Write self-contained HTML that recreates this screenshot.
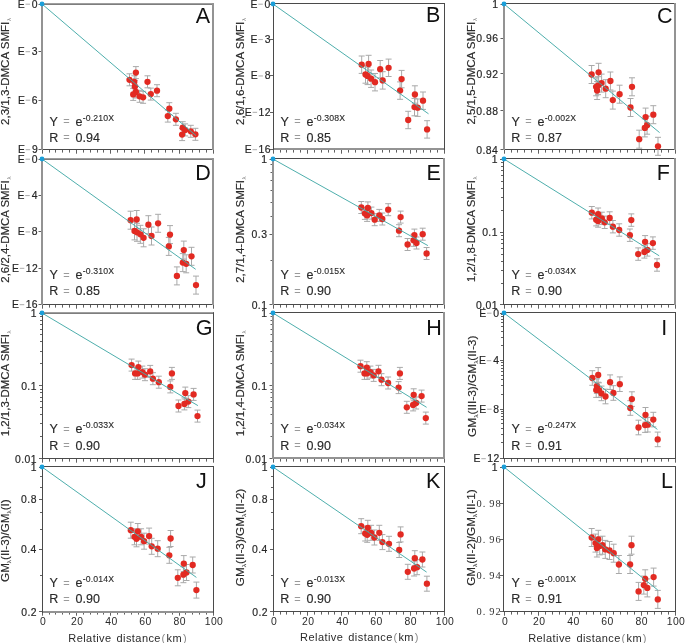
<!DOCTYPE html>
<html><head><meta charset="utf-8"><style>
html,body{margin:0;padding:0;background:#fff;overflow:hidden;}
svg{display:block;will-change:transform;}
text{font-family:"Liberation Sans",sans-serif;fill:#2a2a2a;}
.tk{font-size:10.4px;letter-spacing:0.45px;fill:#262626;stroke:#262626;stroke-width:0.18px;}
.tks{font-family:"Liberation Serif",serif;font-size:10.4px;fill:#333;}
.pl{font-size:21.5px;fill:#111;}
.eq{font-size:12.5px;stroke:#2a2a2a;stroke-width:0.15px;}
.eqs{font-size:11px;fill:#9a9a9a;}
.sup{font-size:8.7px;stroke:#2a2a2a;stroke-width:0.12px;}
.yl{font-size:11px;stroke:#2a2a2a;stroke-width:0.15px;}
.sub{font-size:6px;fill:#888;}
.xt{font-size:10.4px;letter-spacing:0.45px;}
.xl{font-size:11px;letter-spacing:0.43px;}
.xlp{font-size:11px;fill:#8a8a8a;}
</style></head><body>
<svg width="685" height="643" viewBox="0 0 685 643">
<path d="M42.5 149.5v4.2 M49.5 149.5v3.1 M55.5 149.5v3.1 M62.5 149.5v3.1 M69.5 149.5v3.1 M76.5 149.5v4.2 M83.5 149.5v3.1 M90.5 149.5v3.1 M97.5 149.5v3.1 M103.5 149.5v3.1 M110.5 149.5v4.2 M117.5 149.5v3.1 M124.5 149.5v3.1 M131.5 149.5v3.1 M138.5 149.5v3.1 M144.5 149.5v4.2 M151.5 149.5v3.1 M158.5 149.5v3.1 M165.5 149.5v3.1 M172.5 149.5v3.1 M179.5 149.5v4.2 M185.5 149.5v3.1 M192.5 149.5v3.1 M199.5 149.5v3.1 M206.5 149.5v3.1 M213.5 149.5v4.2" stroke="#606060" stroke-width="1" fill="none"/>
<path d="M38.5 4.5h3 M38.5 51.5h3 M38.5 100.5h3 M38.5 149.5h3" stroke="#606060" stroke-width="1" fill="none"/>
<line x1="41" y1="4.15" x2="214" y2="4.15" stroke="#7e7e7e" stroke-width="1.7"/>
<line x1="41" y1="149.5" x2="214" y2="149.5" stroke="#4a4a4a" stroke-width="1"/>
<line x1="42" y1="3.3" x2="42" y2="150" stroke="#939393" stroke-width="2"/>
<line x1="213" y1="3.3" x2="213" y2="150" stroke="#939393" stroke-width="2"/>
<text x="31.82" y="7.6" class="tk">0</text>
<line x1="25.53" y1="4.2" x2="30.03" y2="4.2" stroke="#a2a2a2" stroke-width="0.9"/>
<text x="17.74" y="7.6" class="tk">E</text>
<text x="31.87" y="55.1" class="tk">3</text>
<line x1="25.57" y1="51.7" x2="30.07" y2="51.7" stroke="#a2a2a2" stroke-width="0.9"/>
<text x="17.78" y="55.1" class="tk">E</text>
<text x="31.87" y="103.6" class="tk">6</text>
<line x1="25.7" y1="100.2" x2="30.2" y2="100.2" stroke="#a2a2a2" stroke-width="0.9"/>
<text x="17.91" y="103.6" class="tk">E</text>
<text x="31.91" y="153.1" class="tk">9</text>
<line x1="25.7" y1="149.7" x2="30.2" y2="149.7" stroke="#a2a2a2" stroke-width="0.9"/>
<text x="17.91" y="153.1" class="tk">E</text>
<path d="M135.9 66.6V78.6M132.9 66.6h6M132.9 78.6h6 M129.5 73.8V85.8M126.5 73.8h6M126.5 85.8h6 M134.3 75.8V87.8M131.3 75.8h6M131.3 87.8h6 M134.9 80.4V92.4M131.9 80.4h6M131.9 92.4h6 M147.5 75.8V87.8M144.5 75.8h6M144.5 87.8h6 M135.9 86V98M132.9 86h6M132.9 98h6 M133.2 88.4V100.4M130.2 88.4h6M130.2 100.4h6 M139.6 90.3V102.3M136.6 90.3h6M136.6 102.3h6 M143.1 91.3V103.3M140.1 91.3h6M140.1 103.3h6 M150.8 88.1V100.1M147.8 88.1h6M147.8 100.1h6 M157 84.7V96.7M154 84.7h6M154 96.7h6 M169.3 102.7V114.7M166.3 102.7h6M166.3 114.7h6 M167.8 110.1V122.1M164.8 110.1h6M164.8 122.1h6 M175.9 113.3V125.3M172.9 113.3h6M172.9 125.3h6 M182.7 121.7V133.7M179.7 121.7h6M179.7 133.7h6 M185.1 123.9V135.9M182.1 123.9h6M182.1 135.9h6 M182.1 128.6V140.6M179.1 128.6h6M179.1 140.6h6 M190.8 125.3V137.3M187.8 125.3h6M187.8 137.3h6 M195.4 128.3V140.3M192.4 128.3h6M192.4 140.3h6" stroke="#a9a9a9" stroke-width="1" fill="none"/>
<circle cx="135.9" cy="72.6" r="3.15" fill="#e22a22"/>
<circle cx="129.5" cy="79.8" r="3.15" fill="#e22a22"/>
<circle cx="134.3" cy="81.8" r="3.15" fill="#e22a22"/>
<circle cx="134.9" cy="86.4" r="3.15" fill="#e22a22"/>
<circle cx="147.5" cy="81.8" r="3.15" fill="#e22a22"/>
<circle cx="135.9" cy="92" r="3.15" fill="#e22a22"/>
<circle cx="133.2" cy="94.4" r="3.15" fill="#e22a22"/>
<circle cx="139.6" cy="96.3" r="3.15" fill="#e22a22"/>
<circle cx="143.1" cy="97.3" r="3.15" fill="#e22a22"/>
<circle cx="150.8" cy="94.1" r="3.15" fill="#e22a22"/>
<circle cx="157" cy="90.7" r="3.15" fill="#e22a22"/>
<circle cx="169.3" cy="108.7" r="3.15" fill="#e22a22"/>
<circle cx="167.8" cy="116.1" r="3.15" fill="#e22a22"/>
<circle cx="175.9" cy="119.3" r="3.15" fill="#e22a22"/>
<circle cx="182.7" cy="127.7" r="3.15" fill="#e22a22"/>
<circle cx="185.1" cy="129.9" r="3.15" fill="#e22a22"/>
<circle cx="182.1" cy="134.6" r="3.15" fill="#e22a22"/>
<circle cx="190.8" cy="131.3" r="3.15" fill="#e22a22"/>
<circle cx="195.4" cy="134.3" r="3.15" fill="#e22a22"/>
<line x1="42" y1="4" x2="196" y2="135.6" stroke="#45aaa8" stroke-width="0.95"/>
<circle cx="42" cy="4" r="2.4" fill="#1a9fd9"/>
<text x="195.76" y="22.5" class="pl">A</text>
<text x="49.48" y="125.7" class="eq">Y</text>
<text x="63.21" y="125.4" class="eqs">=</text>
<text x="75.52" y="125.7" class="eq">e</text>
<text x="82.66" y="120.5" class="sup" textLength="31.4" lengthAdjust="spacing">-0.210X</text>
<text x="49.32" y="141.5" class="eq">R</text>
<text x="63.21" y="141.2" class="eqs">=</text>
<text x="75.56" y="141.5" class="eq">0.94</text>
<text transform="translate(8.6 125) rotate(-90)" class="yl" textLength="103.3" lengthAdjust="spacingAndGlyphs">2,3/1,3-DMCA SMFI</text>
<text transform="translate(11.2 21.1) rotate(-90)" class="sub">λ</text>
<path d="M273.5 149.5v4.2 M280.5 149.5v3.1 M286.5 149.5v3.1 M293.5 149.5v3.1 M300.5 149.5v3.1 M307.5 149.5v4.2 M314.5 149.5v3.1 M321.5 149.5v3.1 M328.5 149.5v3.1 M334.5 149.5v3.1 M341.5 149.5v4.2 M348.5 149.5v3.1 M355.5 149.5v3.1 M362.5 149.5v3.1 M369.5 149.5v3.1 M375.5 149.5v4.2 M382.5 149.5v3.1 M389.5 149.5v3.1 M396.5 149.5v3.1 M403.5 149.5v3.1 M410.5 149.5v4.2 M416.5 149.5v3.1 M423.5 149.5v3.1 M430.5 149.5v3.1 M437.5 149.5v3.1 M444.5 149.5v4.2" stroke="#606060" stroke-width="1" fill="none"/>
<path d="M270 4.5h3 M270 39.5h3 M270 75.5h3 M270 112.5h3 M270 149.5h3" stroke="#606060" stroke-width="1" fill="none"/>
<line x1="273" y1="3.5" x2="445" y2="3.5" stroke="#4a4a4a" stroke-width="1"/>
<line x1="273" y1="149" x2="445" y2="149" stroke="#939393" stroke-width="2"/>
<line x1="273.5" y1="3" x2="273.5" y2="150" stroke="#4a4a4a" stroke-width="1"/>
<line x1="444.5" y1="3" x2="444.5" y2="150" stroke="#4a4a4a" stroke-width="1"/>
<text x="264.62" y="7.6" class="tk">0</text>
<line x1="258.33" y1="4.2" x2="262.83" y2="4.2" stroke="#a2a2a2" stroke-width="0.9"/>
<text x="250.54" y="7.6" class="tk">E</text>
<text x="264.67" y="42.98" class="tk">3</text>
<line x1="258.37" y1="39.58" x2="262.87" y2="39.58" stroke="#a2a2a2" stroke-width="0.9"/>
<text x="250.58" y="42.98" class="tk">E</text>
<text x="264.67" y="79.35" class="tk">8</text>
<line x1="258.42" y1="75.95" x2="262.92" y2="75.95" stroke="#a2a2a2" stroke-width="0.9"/>
<text x="250.63" y="79.35" class="tk">E</text>
<text x="258.51" y="115.72" class="tk">12</text>
<line x1="252.6" y1="112.33" x2="257.1" y2="112.33" stroke="#a2a2a2" stroke-width="0.9"/>
<text x="244.81" y="115.72" class="tk">E</text>
<text x="258.44" y="153.1" class="tk">16</text>
<line x1="252.53" y1="149.7" x2="257.03" y2="149.7" stroke="#a2a2a2" stroke-width="0.9"/>
<text x="244.74" y="153.1" class="tk">E</text>
<path d="M361.7 56V73.4M358.7 56h6M358.7 73.4h6 M368.6 55.3V72.7M365.6 55.3h6M365.6 72.7h6 M365.5 65.8V83.2M362.5 65.8h6M362.5 83.2h6 M367.6 67.2V84.6M364.6 67.2h6M364.6 84.6h6 M371.1 70V87.4M368.1 70h6M368.1 87.4h6 M375 73.5V90.9M372 73.5h6M372 90.9h6 M380.2 60.5V77.9M377.2 60.5h6M377.2 77.9h6 M382.7 71.7V89.1M379.7 71.7h6M379.7 89.1h6 M388.6 59.1V76.5M385.6 59.1h6M385.6 76.5h6 M401.6 70.4V87.8M398.6 70.4h6M398.6 87.8h6 M400.1 81.9V99.3M397.1 81.9h6M397.1 99.3h6 M414.9 85.8V103.2M411.9 85.8h6M411.9 103.2h6 M423 92V109.4M420 92h6M420 109.4h6 M414.5 98.4V115.8M411.5 98.4h6M411.5 115.8h6 M417.7 99V116.4M414.7 99h6M414.7 116.4h6 M408.2 111.3V128.7M405.2 111.3h6M405.2 128.7h6 M427.1 120.7V138.1M424.1 120.7h6M424.1 138.1h6" stroke="#a9a9a9" stroke-width="1" fill="none"/>
<circle cx="361.7" cy="64.7" r="3.15" fill="#e22a22"/>
<circle cx="368.6" cy="64" r="3.15" fill="#e22a22"/>
<circle cx="365.5" cy="74.5" r="3.15" fill="#e22a22"/>
<circle cx="367.6" cy="75.9" r="3.15" fill="#e22a22"/>
<circle cx="371.1" cy="78.7" r="3.15" fill="#e22a22"/>
<circle cx="375" cy="82.2" r="3.15" fill="#e22a22"/>
<circle cx="380.2" cy="69.2" r="3.15" fill="#e22a22"/>
<circle cx="382.7" cy="80.4" r="3.15" fill="#e22a22"/>
<circle cx="388.6" cy="67.8" r="3.15" fill="#e22a22"/>
<circle cx="401.6" cy="79.1" r="3.15" fill="#e22a22"/>
<circle cx="400.1" cy="90.6" r="3.15" fill="#e22a22"/>
<circle cx="414.9" cy="94.5" r="3.15" fill="#e22a22"/>
<circle cx="423" cy="100.7" r="3.15" fill="#e22a22"/>
<circle cx="414.5" cy="107.1" r="3.15" fill="#e22a22"/>
<circle cx="417.7" cy="107.7" r="3.15" fill="#e22a22"/>
<circle cx="408.2" cy="120" r="3.15" fill="#e22a22"/>
<circle cx="427.1" cy="129.4" r="3.15" fill="#e22a22"/>
<line x1="273" y1="4" x2="428.5" y2="113.8" stroke="#45aaa8" stroke-width="0.95"/>
<circle cx="273" cy="4" r="2.4" fill="#1a9fd9"/>
<text x="426.04" y="22.4" class="pl">B</text>
<text x="280.48" y="125.7" class="eq">Y</text>
<text x="294.21" y="125.4" class="eqs">=</text>
<text x="306.52" y="125.7" class="eq">e</text>
<text x="313.66" y="120.5" class="sup" textLength="31.4" lengthAdjust="spacing">-0.308X</text>
<text x="280.32" y="141.5" class="eq">R</text>
<text x="294.21" y="141.2" class="eqs">=</text>
<text x="306.56" y="141.5" class="eq">0.85</text>
<text transform="translate(243.5 125) rotate(-90)" class="yl" textLength="103.3" lengthAdjust="spacingAndGlyphs">2,6/1,6-DMCA SMFI</text>
<text transform="translate(246.1 21.1) rotate(-90)" class="sub">λ</text>
<path d="M504.5 149.5v4.2 M511.5 149.5v3.1 M517.5 149.5v3.1 M524.5 149.5v3.1 M531.5 149.5v3.1 M538.5 149.5v4.2 M545.5 149.5v3.1 M552.5 149.5v3.1 M559.5 149.5v3.1 M565.5 149.5v3.1 M572.5 149.5v4.2 M579.5 149.5v3.1 M586.5 149.5v3.1 M593.5 149.5v3.1 M600.5 149.5v3.1 M606.5 149.5v4.2 M613.5 149.5v3.1 M620.5 149.5v3.1 M627.5 149.5v3.1 M634.5 149.5v3.1 M641.5 149.5v4.2 M647.5 149.5v3.1 M654.5 149.5v3.1 M661.5 149.5v3.1 M668.5 149.5v3.1 M675.5 149.5v4.2" stroke="#606060" stroke-width="1" fill="none"/>
<path d="M500.5 4.5h3 M500.5 38.5h3 M500.5 73.5h3 M500.5 110.5h3 M500.5 149.5h3" stroke="#606060" stroke-width="1" fill="none"/>
<line x1="503" y1="3.5" x2="676" y2="3.5" stroke="#4a4a4a" stroke-width="1"/>
<line x1="503" y1="149.5" x2="676" y2="149.5" stroke="#4a4a4a" stroke-width="1"/>
<line x1="504" y1="3" x2="504" y2="150" stroke="#939393" stroke-width="2"/>
<line x1="675" y1="3" x2="675" y2="150" stroke="#939393" stroke-width="2"/>
<text x="492.22" y="8" class="tk">1</text>
<text x="476.37" y="42.07" class="tk">0.96</text>
<text x="476.43" y="77.58" class="tk">0.92</text>
<text x="476.36" y="114.68" class="tk">0.88</text>
<text x="476.21" y="153.5" class="tk">0.84</text>
<path d="M591.6 65.5V83.5M588.6 65.5h6M588.6 83.5h6 M598.6 63.3V81.3M595.6 63.3h6M595.6 81.3h6 M601.6 74.1V92.1M598.6 74.1h6M598.6 92.1h6 M596.1 77.8V95.8M593.1 77.8h6M593.1 95.8h6 M597.1 81.5V99.5M594.1 81.5h6M594.1 99.5h6 M598 76.7V94.7M595 76.7h6M595 94.7h6 M605.7 79.7V97.7M602.7 79.7h6M602.7 97.7h6 M610.4 72V90M607.4 72h6M607.4 90h6 M612.8 91.1V109.1M609.8 91.1h6M609.8 109.1h6 M619.6 85.2V103.2M616.6 85.2h6M616.6 103.2h6 M632 77.8V95.8M629 77.8h6M629 95.8h6 M630.5 98.5V116.5M627.5 98.5h6M627.5 116.5h6 M645.6 108.1V126.1M642.6 108.1h6M642.6 126.1h6 M653.3 105.7V123.7M650.3 105.7h6M650.3 123.7h6 M647.1 116.2V134.2M644.1 116.2h6M644.1 134.2h6 M644.8 118.9V136.9M641.8 118.9h6M641.8 136.9h6 M639.2 130.2V148.2M636.2 130.2h6M636.2 148.2h6 M658 137.3V155.3M655 137.3h6M655 155.3h6" stroke="#a9a9a9" stroke-width="1" fill="none"/>
<circle cx="591.6" cy="74.5" r="3.15" fill="#e22a22"/>
<circle cx="598.6" cy="72.3" r="3.15" fill="#e22a22"/>
<circle cx="601.6" cy="83.1" r="3.15" fill="#e22a22"/>
<circle cx="596.1" cy="86.8" r="3.15" fill="#e22a22"/>
<circle cx="597.1" cy="90.5" r="3.15" fill="#e22a22"/>
<circle cx="598" cy="85.7" r="3.15" fill="#e22a22"/>
<circle cx="605.7" cy="88.7" r="3.15" fill="#e22a22"/>
<circle cx="610.4" cy="81" r="3.15" fill="#e22a22"/>
<circle cx="612.8" cy="100.1" r="3.15" fill="#e22a22"/>
<circle cx="619.6" cy="94.2" r="3.15" fill="#e22a22"/>
<circle cx="632" cy="86.8" r="3.15" fill="#e22a22"/>
<circle cx="630.5" cy="107.5" r="3.15" fill="#e22a22"/>
<circle cx="645.6" cy="117.1" r="3.15" fill="#e22a22"/>
<circle cx="653.3" cy="114.7" r="3.15" fill="#e22a22"/>
<circle cx="647.1" cy="125.2" r="3.15" fill="#e22a22"/>
<circle cx="644.8" cy="127.9" r="3.15" fill="#e22a22"/>
<circle cx="639.2" cy="139.2" r="3.15" fill="#e22a22"/>
<circle cx="658" cy="146.3" r="3.15" fill="#e22a22"/>
<line x1="504" y1="4" x2="659.6" y2="132.6" stroke="#45aaa8" stroke-width="0.95"/>
<circle cx="504" cy="4" r="2.4" fill="#1a9fd9"/>
<text x="656.91" y="22.5" class="pl">C</text>
<text x="511.48" y="125.7" class="eq">Y</text>
<text x="525.21" y="125.4" class="eqs">=</text>
<text x="537.52" y="125.7" class="eq">e</text>
<text x="544.66" y="120.5" class="sup" textLength="31.4" lengthAdjust="spacing">-0.002X</text>
<text x="511.32" y="141.5" class="eq">R</text>
<text x="525.21" y="141.2" class="eqs">=</text>
<text x="537.56" y="141.5" class="eq">0.87</text>
<text transform="translate(474.6 124.6) rotate(-90)" class="yl" textLength="102.9" lengthAdjust="spacingAndGlyphs">2,5/1,5-DMCA SMFI</text>
<text transform="translate(477.2 21.1) rotate(-90)" class="sub">λ</text>
<path d="M42.5 304.5v4.2 M49.5 304.5v3.1 M55.5 304.5v3.1 M62.5 304.5v3.1 M69.5 304.5v3.1 M76.5 304.5v4.2 M83.5 304.5v3.1 M90.5 304.5v3.1 M97.5 304.5v3.1 M103.5 304.5v3.1 M110.5 304.5v4.2 M117.5 304.5v3.1 M124.5 304.5v3.1 M131.5 304.5v3.1 M138.5 304.5v3.1 M144.5 304.5v4.2 M151.5 304.5v3.1 M158.5 304.5v3.1 M165.5 304.5v3.1 M172.5 304.5v3.1 M179.5 304.5v4.2 M185.5 304.5v3.1 M192.5 304.5v3.1 M199.5 304.5v3.1 M206.5 304.5v3.1 M213.5 304.5v4.2" stroke="#606060" stroke-width="1" fill="none"/>
<path d="M38.5 159.5h3 M38.5 195.5h3 M38.5 231.5h3 M38.5 268.5h3 M38.5 304.5h3" stroke="#606060" stroke-width="1" fill="none"/>
<line x1="41" y1="159.15" x2="214" y2="159.15" stroke="#7e7e7e" stroke-width="1.7"/>
<line x1="41" y1="304.5" x2="214" y2="304.5" stroke="#4a4a4a" stroke-width="1"/>
<line x1="42" y1="158.3" x2="42" y2="305" stroke="#939393" stroke-width="2"/>
<line x1="213" y1="158.3" x2="213" y2="305" stroke="#939393" stroke-width="2"/>
<text x="31.82" y="162.6" class="tk">0</text>
<line x1="25.53" y1="159.2" x2="30.03" y2="159.2" stroke="#a2a2a2" stroke-width="0.9"/>
<text x="17.74" y="162.6" class="tk">E</text>
<text x="31.72" y="198.97" class="tk">4</text>
<line x1="25.26" y1="195.57" x2="29.76" y2="195.57" stroke="#a2a2a2" stroke-width="0.9"/>
<text x="17.47" y="198.97" class="tk">E</text>
<text x="31.87" y="235.35" class="tk">8</text>
<line x1="25.62" y1="231.95" x2="30.12" y2="231.95" stroke="#a2a2a2" stroke-width="0.9"/>
<text x="17.83" y="235.35" class="tk">E</text>
<text x="25.71" y="271.73" class="tk">12</text>
<line x1="19.8" y1="268.32" x2="24.3" y2="268.32" stroke="#a2a2a2" stroke-width="0.9"/>
<text x="12.01" y="271.73" class="tk">E</text>
<text x="25.64" y="308.1" class="tk">16</text>
<line x1="19.73" y1="304.7" x2="24.23" y2="304.7" stroke="#a2a2a2" stroke-width="0.9"/>
<text x="11.94" y="308.1" class="tk">E</text>
<path d="M130.6 211.2V229.2M127.6 211.2h6M127.6 229.2h6 M136.7 210.5V228.5M133.7 210.5h6M133.7 228.5h6 M134.5 221.9V239.9M131.5 221.9h6M131.5 239.9h6 M137 223.3V241.3M134 223.3h6M134 241.3h6 M140.4 225.3V243.3M137.4 225.3h6M137.4 243.3h6 M143.6 228.8V246.8M140.6 228.8h6M140.6 246.8h6 M148.4 215.7V233.7M145.4 215.7h6M145.4 233.7h6 M151.5 227V245M148.5 227h6M148.5 245h6 M158.1 214.3V232.3M155.1 214.3h6M155.1 232.3h6 M170 225.6V243.6M167 225.6h6M167 243.6h6 M168.8 237.4V255.4M165.8 237.4h6M165.8 255.4h6 M183.8 241.1V259.1M180.8 241.1h6M180.8 259.1h6 M191.5 247.3V265.3M188.5 247.3h6M188.5 265.3h6 M182.8 253.6V271.6M179.8 253.6h6M179.8 271.6h6 M186.2 254.8V272.8M183.2 254.8h6M183.2 272.8h6 M176.9 266.9V284.9M173.9 266.9h6M173.9 284.9h6 M196 276.1V294.1M193 276.1h6M193 294.1h6" stroke="#a9a9a9" stroke-width="1" fill="none"/>
<circle cx="130.6" cy="220.2" r="3.15" fill="#e22a22"/>
<circle cx="136.7" cy="219.5" r="3.15" fill="#e22a22"/>
<circle cx="134.5" cy="230.9" r="3.15" fill="#e22a22"/>
<circle cx="137" cy="232.3" r="3.15" fill="#e22a22"/>
<circle cx="140.4" cy="234.3" r="3.15" fill="#e22a22"/>
<circle cx="143.6" cy="237.8" r="3.15" fill="#e22a22"/>
<circle cx="148.4" cy="224.7" r="3.15" fill="#e22a22"/>
<circle cx="151.5" cy="236" r="3.15" fill="#e22a22"/>
<circle cx="158.1" cy="223.3" r="3.15" fill="#e22a22"/>
<circle cx="170" cy="234.6" r="3.15" fill="#e22a22"/>
<circle cx="168.8" cy="246.4" r="3.15" fill="#e22a22"/>
<circle cx="183.8" cy="250.1" r="3.15" fill="#e22a22"/>
<circle cx="191.5" cy="256.3" r="3.15" fill="#e22a22"/>
<circle cx="182.8" cy="262.6" r="3.15" fill="#e22a22"/>
<circle cx="186.2" cy="263.8" r="3.15" fill="#e22a22"/>
<circle cx="176.9" cy="275.9" r="3.15" fill="#e22a22"/>
<circle cx="196" cy="285.1" r="3.15" fill="#e22a22"/>
<line x1="42" y1="159" x2="195.7" y2="269.3" stroke="#45aaa8" stroke-width="0.95"/>
<circle cx="42" cy="159" r="2.4" fill="#1a9fd9"/>
<text x="195.34" y="180.2" class="pl">D</text>
<text x="49.48" y="279" class="eq">Y</text>
<text x="63.21" y="278.7" class="eqs">=</text>
<text x="75.52" y="279" class="eq">e</text>
<text x="82.66" y="273.8" class="sup" textLength="31.4" lengthAdjust="spacing">-0.310X</text>
<text x="49.32" y="294.9" class="eq">R</text>
<text x="63.21" y="294.6" class="eqs">=</text>
<text x="75.56" y="294.9" class="eq">0.85</text>
<text transform="translate(8.6 282.7) rotate(-90)" class="yl" textLength="102.5" lengthAdjust="spacingAndGlyphs">2,6/2,4-DMCA SMFI</text>
<text transform="translate(11.2 179.6) rotate(-90)" class="sub">λ</text>
<path d="M273.5 304.5v4.2 M280.5 304.5v3.1 M286.5 304.5v3.1 M293.5 304.5v3.1 M300.5 304.5v3.1 M307.5 304.5v4.2 M314.5 304.5v3.1 M321.5 304.5v3.1 M328.5 304.5v3.1 M334.5 304.5v3.1 M341.5 304.5v4.2 M348.5 304.5v3.1 M355.5 304.5v3.1 M362.5 304.5v3.1 M369.5 304.5v3.1 M375.5 304.5v4.2 M382.5 304.5v3.1 M389.5 304.5v3.1 M396.5 304.5v3.1 M403.5 304.5v3.1 M410.5 304.5v4.2 M416.5 304.5v3.1 M423.5 304.5v3.1 M430.5 304.5v3.1 M437.5 304.5v3.1 M444.5 304.5v4.2" stroke="#606060" stroke-width="1" fill="none"/>
<path d="M269.5 159.5h3 M269.5 234.5h3 M269.5 304.5h3 M270.5 260.5h2 M270.5 234.5h2 M270.5 216.5h2 M270.5 202.5h2 M270.5 190.5h2 M270.5 180.5h2 M270.5 172.5h2 M270.5 164.5h2" stroke="#606060" stroke-width="1" fill="none"/>
<line x1="272" y1="158.5" x2="445" y2="158.5" stroke="#4a4a4a" stroke-width="1"/>
<line x1="272" y1="304.5" x2="445" y2="304.5" stroke="#4a4a4a" stroke-width="1"/>
<line x1="273" y1="158" x2="273" y2="305" stroke="#939393" stroke-width="2"/>
<line x1="444" y1="158" x2="444" y2="305" stroke="#939393" stroke-width="2"/>
<text x="261.22" y="163" class="tk">1</text>
<text x="251.6" y="238.38" class="tk">0.3</text>
<text x="251.65" y="308.5" class="tk">0.1</text>
<path d="M361.3 201.5V213.5M358.3 201.5h6M358.3 213.5h6 M367.9 201.9V213.9M364.9 201.9h6M364.9 213.9h6 M364.9 207.4V219.4M361.9 207.4h6M361.9 219.4h6 M367.1 209.4V221.4M364.1 209.4h6M364.1 221.4h6 M371.4 207.1V219.1M368.4 207.1h6M368.4 219.1h6 M374.7 213.7V225.7M371.7 213.7h6M371.7 225.7h6 M379.3 209.4V221.4M376.3 209.4h6M376.3 221.4h6 M382.3 213V225M379.3 213h6M379.3 225h6 M388.2 203.7V215.7M385.2 203.7h6M385.2 215.7h6 M400.6 211.1V223.1M397.6 211.1h6M397.6 223.1h6 M399 224.7V236.7M396 224.7h6M396 236.7h6 M414.4 229.1V241.1M411.4 229.1h6M411.4 241.1h6 M422.7 228.2V240.2M419.7 228.2h6M419.7 240.2h6 M413.5 234.3V246.3M410.5 234.3h6M410.5 246.3h6 M416.5 237V249M413.5 237h6M413.5 249h6 M407.6 238.5V250.5M404.6 238.5h6M404.6 250.5h6 M426.6 247.5V259.5M423.6 247.5h6M423.6 259.5h6" stroke="#a9a9a9" stroke-width="1" fill="none"/>
<circle cx="361.3" cy="207.5" r="3.15" fill="#e22a22"/>
<circle cx="367.9" cy="207.9" r="3.15" fill="#e22a22"/>
<circle cx="364.9" cy="213.4" r="3.15" fill="#e22a22"/>
<circle cx="367.1" cy="215.4" r="3.15" fill="#e22a22"/>
<circle cx="371.4" cy="213.1" r="3.15" fill="#e22a22"/>
<circle cx="374.7" cy="219.7" r="3.15" fill="#e22a22"/>
<circle cx="379.3" cy="215.4" r="3.15" fill="#e22a22"/>
<circle cx="382.3" cy="219" r="3.15" fill="#e22a22"/>
<circle cx="388.2" cy="209.7" r="3.15" fill="#e22a22"/>
<circle cx="400.6" cy="217.1" r="3.15" fill="#e22a22"/>
<circle cx="399" cy="230.7" r="3.15" fill="#e22a22"/>
<circle cx="414.4" cy="235.1" r="3.15" fill="#e22a22"/>
<circle cx="422.7" cy="234.2" r="3.15" fill="#e22a22"/>
<circle cx="413.5" cy="240.3" r="3.15" fill="#e22a22"/>
<circle cx="416.5" cy="243" r="3.15" fill="#e22a22"/>
<circle cx="407.6" cy="244.5" r="3.15" fill="#e22a22"/>
<circle cx="426.6" cy="253.5" r="3.15" fill="#e22a22"/>
<line x1="273" y1="159" x2="427.9" y2="245.6" stroke="#45aaa8" stroke-width="0.95"/>
<circle cx="273" cy="159" r="2.4" fill="#1a9fd9"/>
<text x="426.54" y="180.1" class="pl">E</text>
<text x="280.48" y="279" class="eq">Y</text>
<text x="294.21" y="278.7" class="eqs">=</text>
<text x="306.52" y="279" class="eq">e</text>
<text x="313.66" y="273.8" class="sup" textLength="31.4" lengthAdjust="spacing">-0.015X</text>
<text x="280.32" y="294.9" class="eq">R</text>
<text x="294.21" y="294.6" class="eqs">=</text>
<text x="306.56" y="294.9" class="eq">0.90</text>
<text transform="translate(243.5 282.8) rotate(-90)" class="yl" textLength="102.8" lengthAdjust="spacingAndGlyphs">2,7/1,4-DMCA SMFI</text>
<text transform="translate(246.1 179.4) rotate(-90)" class="sub">λ</text>
<path d="M504.5 304.5v4.2 M511.5 304.5v3.1 M517.5 304.5v3.1 M524.5 304.5v3.1 M531.5 304.5v3.1 M538.5 304.5v4.2 M545.5 304.5v3.1 M552.5 304.5v3.1 M559.5 304.5v3.1 M565.5 304.5v3.1 M572.5 304.5v4.2 M579.5 304.5v3.1 M586.5 304.5v3.1 M593.5 304.5v3.1 M600.5 304.5v3.1 M606.5 304.5v4.2 M613.5 304.5v3.1 M620.5 304.5v3.1 M627.5 304.5v3.1 M634.5 304.5v3.1 M641.5 304.5v4.2 M647.5 304.5v3.1 M654.5 304.5v3.1 M661.5 304.5v3.1 M668.5 304.5v3.1 M675.5 304.5v4.2" stroke="#606060" stroke-width="1" fill="none"/>
<path d="M500 159.5h3 M500 232.5h3 M500 304.5h3 M501 210.5h2 M501 197.5h2 M501 188.5h2 M501 181.5h2 M501 175.5h2 M501 170.5h2 M501 166.5h2 M501 162.5h2 M501 283.5h2 M501 270.5h2 M501 261.5h2 M501 254.5h2 M501 248.5h2 M501 243.5h2 M501 239.5h2 M501 235.5h2" stroke="#606060" stroke-width="1" fill="none"/>
<line x1="503" y1="158.5" x2="676" y2="158.5" stroke="#4a4a4a" stroke-width="1"/>
<line x1="503" y1="304.5" x2="676" y2="304.5" stroke="#4a4a4a" stroke-width="1"/>
<line x1="503.5" y1="158" x2="503.5" y2="305" stroke="#4a4a4a" stroke-width="1"/>
<line x1="675" y1="158" x2="675" y2="305" stroke="#939393" stroke-width="2"/>
<text x="491.72" y="163" class="tk">1</text>
<text x="482.15" y="236.15" class="tk">0.1</text>
<text x="475.92" y="308.5" class="tk">0.01</text>
<path d="M591.8 206.5V218.9M588.8 206.5h6M588.8 218.9h6 M598.1 208V220.4M595.1 208h6M595.1 220.4h6 M596.2 213.5V225.9M593.2 213.5h6M593.2 225.9h6 M598.1 214.8V227.2M595.1 214.8h6M595.1 227.2h6 M601.8 212.2V224.6M598.8 212.2h6M598.8 224.6h6 M604.7 216.1V228.5M601.7 216.1h6M601.7 228.5h6 M609.7 211.8V224.2M606.7 211.8h6M606.7 224.2h6 M612.9 220.5V232.9M609.9 220.5h6M609.9 232.9h6 M619.2 223.8V236.2M616.2 223.8h6M616.2 236.2h6 M631.3 213.9V226.3M628.3 213.9h6M628.3 226.3h6 M629.9 229V241.4M626.9 229h6M626.9 241.4h6 M645.1 235.6V248M642.1 235.6h6M642.1 248h6 M652.9 236.9V249.3M649.9 236.9h6M649.9 249.3h6 M644.4 245.7V258.1M641.4 245.7h6M641.4 258.1h6 M647.4 243.7V256.1M644.4 243.7h6M644.4 256.1h6 M638.2 247.9V260.3M635.2 247.9h6M635.2 260.3h6 M657 258.8V271.2M654 258.8h6M654 271.2h6" stroke="#a9a9a9" stroke-width="1" fill="none"/>
<circle cx="591.8" cy="212.7" r="3.15" fill="#e22a22"/>
<circle cx="598.1" cy="214.2" r="3.15" fill="#e22a22"/>
<circle cx="596.2" cy="219.7" r="3.15" fill="#e22a22"/>
<circle cx="598.1" cy="221" r="3.15" fill="#e22a22"/>
<circle cx="601.8" cy="218.4" r="3.15" fill="#e22a22"/>
<circle cx="604.7" cy="222.3" r="3.15" fill="#e22a22"/>
<circle cx="609.7" cy="218" r="3.15" fill="#e22a22"/>
<circle cx="612.9" cy="226.7" r="3.15" fill="#e22a22"/>
<circle cx="619.2" cy="230" r="3.15" fill="#e22a22"/>
<circle cx="631.3" cy="220.1" r="3.15" fill="#e22a22"/>
<circle cx="629.9" cy="235.2" r="3.15" fill="#e22a22"/>
<circle cx="645.1" cy="241.8" r="3.15" fill="#e22a22"/>
<circle cx="652.9" cy="243.1" r="3.15" fill="#e22a22"/>
<circle cx="644.4" cy="251.9" r="3.15" fill="#e22a22"/>
<circle cx="647.4" cy="249.9" r="3.15" fill="#e22a22"/>
<circle cx="638.2" cy="254.1" r="3.15" fill="#e22a22"/>
<circle cx="657" cy="265" r="3.15" fill="#e22a22"/>
<line x1="504" y1="159" x2="659.2" y2="255.8" stroke="#45aaa8" stroke-width="0.95"/>
<circle cx="504" cy="159" r="2.4" fill="#1a9fd9"/>
<text x="656.84" y="180.2" class="pl">F</text>
<text x="511.48" y="279" class="eq">Y</text>
<text x="525.21" y="278.7" class="eqs">=</text>
<text x="537.52" y="279" class="eq">e</text>
<text x="544.66" y="273.8" class="sup" textLength="31.4" lengthAdjust="spacing">-0.034X</text>
<text x="511.32" y="294.9" class="eq">R</text>
<text x="525.21" y="294.6" class="eqs">=</text>
<text x="537.56" y="294.9" class="eq">0.90</text>
<text transform="translate(474.6 282) rotate(-90)" class="yl" textLength="102" lengthAdjust="spacingAndGlyphs">1,2/1,8-DMCA SMFI</text>
<text transform="translate(477.2 179.4) rotate(-90)" class="sub">λ</text>
<path d="M42.5 458.5v4.2 M49.5 458.5v3.1 M55.5 458.5v3.1 M62.5 458.5v3.1 M69.5 458.5v3.1 M76.5 458.5v4.2 M83.5 458.5v3.1 M90.5 458.5v3.1 M97.5 458.5v3.1 M103.5 458.5v3.1 M110.5 458.5v4.2 M117.5 458.5v3.1 M124.5 458.5v3.1 M131.5 458.5v3.1 M138.5 458.5v3.1 M144.5 458.5v4.2 M151.5 458.5v3.1 M158.5 458.5v3.1 M165.5 458.5v3.1 M172.5 458.5v3.1 M179.5 458.5v4.2 M185.5 458.5v3.1 M192.5 458.5v3.1 M199.5 458.5v3.1 M206.5 458.5v3.1 M213.5 458.5v4.2" stroke="#606060" stroke-width="1" fill="none"/>
<path d="M39 313.5h3 M39 385.5h3 M39 458.5h3 M40 363.5h2 M40 351.5h2 M40 341.5h2 M40 334.5h2 M40 329.5h2 M40 324.5h2 M40 320.5h2 M40 316.5h2 M40 436.5h2 M40 423.5h2 M40 414.5h2 M40 407.5h2 M40 401.5h2 M40 397.5h2 M40 392.5h2 M40 389.5h2" stroke="#606060" stroke-width="1" fill="none"/>
<line x1="42" y1="313.15" x2="214" y2="313.15" stroke="#7e7e7e" stroke-width="1.7"/>
<line x1="42" y1="458.5" x2="214" y2="458.5" stroke="#4a4a4a" stroke-width="1"/>
<line x1="42.5" y1="312.3" x2="42.5" y2="459" stroke="#4a4a4a" stroke-width="1"/>
<line x1="213.5" y1="312.3" x2="213.5" y2="459" stroke="#4a4a4a" stroke-width="1"/>
<text x="30.72" y="317" class="tk">1</text>
<text x="21.15" y="389.75" class="tk">0.1</text>
<text x="14.92" y="462.5" class="tk">0.01</text>
<path d="M131.6 359.1V371.1M128.6 359.1h6M128.6 371.1h6 M138.4 361.1V373.1M135.4 361.1h6M135.4 373.1h6 M135.1 367.4V379.4M132.1 367.4h6M132.1 379.4h6 M137.7 367.4V379.4M134.7 367.4h6M134.7 379.4h6 M142.3 366.1V378.1M139.3 366.1h6M139.3 378.1h6 M145 368.7V380.7M142 368.7h6M142 380.7h6 M150.2 365.4V377.4M147.2 365.4h6M147.2 377.4h6 M152.9 372.7V384.7M149.9 372.7h6M149.9 384.7h6 M158.8 376.2V388.2M155.8 376.2h6M155.8 388.2h6 M171.9 367.4V379.4M168.9 367.4h6M168.9 379.4h6 M170.3 380.9V392.9M167.3 380.9h6M167.3 392.9h6 M185.3 387.1V399.1M182.3 387.1h6M182.3 399.1h6 M193.6 388.4V400.4M190.6 388.4h6M190.6 400.4h6 M178.5 400V412M175.5 400h6M175.5 412h6 M184.4 397.9V409.9M181.4 397.9h6M181.4 409.9h6 M188.3 395.6V407.6M185.3 395.6h6M185.3 407.6h6 M197.5 410.1V422.1M194.5 410.1h6M194.5 422.1h6" stroke="#a9a9a9" stroke-width="1" fill="none"/>
<circle cx="131.6" cy="365.1" r="3.15" fill="#e22a22"/>
<circle cx="138.4" cy="367.1" r="3.15" fill="#e22a22"/>
<circle cx="135.1" cy="373.4" r="3.15" fill="#e22a22"/>
<circle cx="137.7" cy="373.4" r="3.15" fill="#e22a22"/>
<circle cx="142.3" cy="372.1" r="3.15" fill="#e22a22"/>
<circle cx="145" cy="374.7" r="3.15" fill="#e22a22"/>
<circle cx="150.2" cy="371.4" r="3.15" fill="#e22a22"/>
<circle cx="152.9" cy="378.7" r="3.15" fill="#e22a22"/>
<circle cx="158.8" cy="382.2" r="3.15" fill="#e22a22"/>
<circle cx="171.9" cy="373.4" r="3.15" fill="#e22a22"/>
<circle cx="170.3" cy="386.9" r="3.15" fill="#e22a22"/>
<circle cx="185.3" cy="393.1" r="3.15" fill="#e22a22"/>
<circle cx="193.6" cy="394.4" r="3.15" fill="#e22a22"/>
<circle cx="178.5" cy="406" r="3.15" fill="#e22a22"/>
<circle cx="184.4" cy="403.9" r="3.15" fill="#e22a22"/>
<circle cx="188.3" cy="401.6" r="3.15" fill="#e22a22"/>
<circle cx="197.5" cy="416.1" r="3.15" fill="#e22a22"/>
<line x1="42" y1="313" x2="197.9" y2="405.6" stroke="#45aaa8" stroke-width="0.95"/>
<circle cx="42" cy="313" r="2.4" fill="#1a9fd9"/>
<text x="195.72" y="334.5" class="pl">G</text>
<text x="49.48" y="433.4" class="eq">Y</text>
<text x="63.21" y="433.1" class="eqs">=</text>
<text x="75.52" y="433.4" class="eq">e</text>
<text x="82.66" y="428.2" class="sup" textLength="31.4" lengthAdjust="spacing">-0.033X</text>
<text x="49.32" y="449.5" class="eq">R</text>
<text x="63.21" y="449.2" class="eqs">=</text>
<text x="75.56" y="449.5" class="eq">0.90</text>
<text transform="translate(8.6 436.2) rotate(-90)" class="yl" textLength="102.2" lengthAdjust="spacingAndGlyphs">1,2/1,3-DMCA SMFI</text>
<text transform="translate(11.2 333.4) rotate(-90)" class="sub">λ</text>
<path d="M273.5 458.5v4.2 M280.5 458.5v3.1 M286.5 458.5v3.1 M293.5 458.5v3.1 M300.5 458.5v3.1 M307.5 458.5v4.2 M314.5 458.5v3.1 M321.5 458.5v3.1 M328.5 458.5v3.1 M334.5 458.5v3.1 M341.5 458.5v4.2 M348.5 458.5v3.1 M355.5 458.5v3.1 M362.5 458.5v3.1 M369.5 458.5v3.1 M375.5 458.5v4.2 M382.5 458.5v3.1 M389.5 458.5v3.1 M396.5 458.5v3.1 M403.5 458.5v3.1 M410.5 458.5v4.2 M416.5 458.5v3.1 M423.5 458.5v3.1 M430.5 458.5v3.1 M437.5 458.5v3.1 M444.5 458.5v4.2" stroke="#606060" stroke-width="1" fill="none"/>
<path d="M269.5 313.5h3 M269.5 385.5h3 M269.5 458.5h3 M270.5 363.5h2 M270.5 351.5h2 M270.5 341.5h2 M270.5 334.5h2 M270.5 329.5h2 M270.5 324.5h2 M270.5 320.5h2 M270.5 316.5h2 M270.5 436.5h2 M270.5 423.5h2 M270.5 414.5h2 M270.5 407.5h2 M270.5 401.5h2 M270.5 397.5h2 M270.5 392.5h2 M270.5 389.5h2" stroke="#606060" stroke-width="1" fill="none"/>
<line x1="272" y1="312.5" x2="445" y2="312.5" stroke="#4a4a4a" stroke-width="1"/>
<line x1="272" y1="458" x2="445" y2="458" stroke="#939393" stroke-width="2"/>
<line x1="273" y1="312" x2="273" y2="459" stroke="#939393" stroke-width="2"/>
<line x1="444" y1="312" x2="444" y2="459" stroke="#939393" stroke-width="2"/>
<text x="261.22" y="317" class="tk">1</text>
<text x="251.65" y="389.75" class="tk">0.1</text>
<text x="245.42" y="462.5" class="tk">0.01</text>
<path d="M360.5 360.2V372.2M357.5 360.2h6M357.5 372.2h6 M366.8 361.7V373.7M363.8 361.7h6M363.8 373.7h6 M364.5 367.4V379.4M361.5 367.4h6M361.5 379.4h6 M367.1 367.4V379.4M364.1 367.4h6M364.1 379.4h6 M370.4 366.1V378.1M367.4 366.1h6M367.4 378.1h6 M373.7 369.4V381.4M370.7 369.4h6M370.7 381.4h6 M378.5 365.3V377.3M375.5 365.3h6M375.5 377.3h6 M381.5 373.7V385.7M378.5 373.7h6M378.5 385.7h6 M388.1 377V389M385.1 377h6M385.1 389h6 M399.9 367.4V379.4M396.9 367.4h6M396.9 379.4h6 M398.6 381.6V393.6M395.6 381.6h6M395.6 393.6h6 M413.7 388.8V400.8M410.7 388.8h6M410.7 400.8h6 M421.6 390.1V402.1M418.6 390.1h6M418.6 402.1h6 M406.8 401.3V413.3M403.8 401.3h6M403.8 413.3h6 M413.1 398.9V410.9M410.1 398.9h6M410.1 410.9h6 M416.1 397V409M413.1 397h6M413.1 409h6 M425.8 412.1V424.1M422.8 412.1h6M422.8 424.1h6" stroke="#a9a9a9" stroke-width="1" fill="none"/>
<circle cx="360.5" cy="366.2" r="3.15" fill="#e22a22"/>
<circle cx="366.8" cy="367.7" r="3.15" fill="#e22a22"/>
<circle cx="364.5" cy="373.4" r="3.15" fill="#e22a22"/>
<circle cx="367.1" cy="373.4" r="3.15" fill="#e22a22"/>
<circle cx="370.4" cy="372.1" r="3.15" fill="#e22a22"/>
<circle cx="373.7" cy="375.4" r="3.15" fill="#e22a22"/>
<circle cx="378.5" cy="371.3" r="3.15" fill="#e22a22"/>
<circle cx="381.5" cy="379.7" r="3.15" fill="#e22a22"/>
<circle cx="388.1" cy="383" r="3.15" fill="#e22a22"/>
<circle cx="399.9" cy="373.4" r="3.15" fill="#e22a22"/>
<circle cx="398.6" cy="387.6" r="3.15" fill="#e22a22"/>
<circle cx="413.7" cy="394.8" r="3.15" fill="#e22a22"/>
<circle cx="421.6" cy="396.1" r="3.15" fill="#e22a22"/>
<circle cx="406.8" cy="407.3" r="3.15" fill="#e22a22"/>
<circle cx="413.1" cy="404.9" r="3.15" fill="#e22a22"/>
<circle cx="416.1" cy="403" r="3.15" fill="#e22a22"/>
<circle cx="425.8" cy="418.1" r="3.15" fill="#e22a22"/>
<line x1="273" y1="313" x2="426.6" y2="407.3" stroke="#45aaa8" stroke-width="0.95"/>
<circle cx="273" cy="313" r="2.4" fill="#1a9fd9"/>
<text x="426.24" y="334.6" class="pl">H</text>
<text x="280.48" y="433.4" class="eq">Y</text>
<text x="294.21" y="433.1" class="eqs">=</text>
<text x="306.52" y="433.4" class="eq">e</text>
<text x="313.66" y="428.2" class="sup" textLength="31.4" lengthAdjust="spacing">-0.034X</text>
<text x="280.32" y="449.5" class="eq">R</text>
<text x="294.21" y="449.2" class="eqs">=</text>
<text x="306.56" y="449.5" class="eq">0.90</text>
<text transform="translate(243.5 436.2) rotate(-90)" class="yl" textLength="102.2" lengthAdjust="spacingAndGlyphs">1,2/1,4-DMCA SMFI</text>
<text transform="translate(246.1 333.4) rotate(-90)" class="sub">λ</text>
<path d="M504.5 458.5v4.2 M511.5 458.5v3.1 M517.5 458.5v3.1 M524.5 458.5v3.1 M531.5 458.5v3.1 M538.5 458.5v4.2 M545.5 458.5v3.1 M552.5 458.5v3.1 M559.5 458.5v3.1 M565.5 458.5v3.1 M572.5 458.5v4.2 M579.5 458.5v3.1 M586.5 458.5v3.1 M593.5 458.5v3.1 M600.5 458.5v3.1 M606.5 458.5v4.2 M613.5 458.5v3.1 M620.5 458.5v3.1 M627.5 458.5v3.1 M634.5 458.5v3.1 M641.5 458.5v4.2 M647.5 458.5v3.1 M654.5 458.5v3.1 M661.5 458.5v3.1 M668.5 458.5v3.1 M675.5 458.5v4.2" stroke="#606060" stroke-width="1" fill="none"/>
<path d="M500 313.5h3 M500 360.5h3 M500 409.5h3 M500 458.5h3 M501 345.5h2 M501 337.5h2 M501 331.5h2 M501 326.5h2 M501 322.5h2 M501 319.5h2 M501 316.5h2 M501 314.5h2 M501 394.5h2 M501 385.5h2 M501 379.5h2 M501 375.5h2 M501 371.5h2 M501 368.5h2 M501 365.5h2 M501 362.5h2 M501 442.5h2 M501 434.5h2 M501 428.5h2 M501 423.5h2 M501 419.5h2 M501 416.5h2 M501 413.5h2 M501 411.5h2" stroke="#606060" stroke-width="1" fill="none"/>
<line x1="503" y1="312.5" x2="676" y2="312.5" stroke="#4a4a4a" stroke-width="1"/>
<line x1="503" y1="458.5" x2="676" y2="458.5" stroke="#4a4a4a" stroke-width="1"/>
<line x1="503.5" y1="312" x2="503.5" y2="459" stroke="#4a4a4a" stroke-width="1"/>
<line x1="675.5" y1="312" x2="675.5" y2="459" stroke="#4a4a4a" stroke-width="1"/>
<text x="493.32" y="316.6" class="tk">0</text>
<line x1="487.03" y1="313.2" x2="491.53" y2="313.2" stroke="#a2a2a2" stroke-width="0.9"/>
<text x="479.24" y="316.6" class="tk">E</text>
<text x="493.22" y="364.1" class="tk">4</text>
<line x1="486.76" y1="360.7" x2="491.26" y2="360.7" stroke="#a2a2a2" stroke-width="0.9"/>
<text x="478.97" y="364.1" class="tk">E</text>
<text x="493.37" y="412.6" class="tk">8</text>
<line x1="487.12" y1="409.2" x2="491.62" y2="409.2" stroke="#a2a2a2" stroke-width="0.9"/>
<text x="479.33" y="412.6" class="tk">E</text>
<text x="487.21" y="462.1" class="tk">12</text>
<line x1="481.3" y1="458.7" x2="485.8" y2="458.7" stroke="#a2a2a2" stroke-width="0.9"/>
<text x="473.51" y="462.1" class="tk">E</text>
<path d="M592.3 370.7V385.3M589.3 370.7h6M589.3 385.3h6 M598.2 367.6V382.2M595.2 367.6h6M595.2 382.2h6 M596.9 378.8V393.4M593.9 378.8h6M593.9 393.4h6 M596.2 382.8V397.4M593.2 382.8h6M593.2 397.4h6 M598.9 382.8V397.4M595.9 382.8h6M595.9 397.4h6 M601.5 386.1V400.7M598.5 386.1h6M598.5 400.7h6 M605.5 389.2V403.8M602.5 389.2h6M602.5 403.8h6 M610.1 374.9V389.5M607.1 374.9h6M607.1 389.5h6 M613.4 385.7V400.3M610.4 385.7h6M610.4 400.3h6 M619.8 376.9V391.5M616.8 376.9h6M616.8 391.5h6 M631.9 391.8V406.4M628.9 391.8h6M628.9 406.4h6 M630.3 400.7V415.3M627.3 400.7h6M627.3 415.3h6 M645.5 407.5V422.1M642.5 407.5h6M642.5 422.1h6 M653.3 412.3V426.9M650.3 412.3h6M650.3 426.9h6 M645.1 417.8V432.4M642.1 417.8h6M642.1 432.4h6 M647.8 417.4V432M644.8 417.4h6M644.8 432h6 M638.5 420.2V434.8M635.5 420.2h6M635.5 434.8h6 M657.7 432.1V446.7M654.7 432.1h6M654.7 446.7h6" stroke="#a9a9a9" stroke-width="1" fill="none"/>
<circle cx="592.3" cy="378" r="3.15" fill="#e22a22"/>
<circle cx="598.2" cy="374.9" r="3.15" fill="#e22a22"/>
<circle cx="596.9" cy="386.1" r="3.15" fill="#e22a22"/>
<circle cx="596.2" cy="390.1" r="3.15" fill="#e22a22"/>
<circle cx="598.9" cy="390.1" r="3.15" fill="#e22a22"/>
<circle cx="601.5" cy="393.4" r="3.15" fill="#e22a22"/>
<circle cx="605.5" cy="396.5" r="3.15" fill="#e22a22"/>
<circle cx="610.1" cy="382.2" r="3.15" fill="#e22a22"/>
<circle cx="613.4" cy="393" r="3.15" fill="#e22a22"/>
<circle cx="619.8" cy="384.2" r="3.15" fill="#e22a22"/>
<circle cx="631.9" cy="399.1" r="3.15" fill="#e22a22"/>
<circle cx="630.3" cy="408" r="3.15" fill="#e22a22"/>
<circle cx="645.5" cy="414.8" r="3.15" fill="#e22a22"/>
<circle cx="653.3" cy="419.6" r="3.15" fill="#e22a22"/>
<circle cx="645.1" cy="425.1" r="3.15" fill="#e22a22"/>
<circle cx="647.8" cy="424.7" r="3.15" fill="#e22a22"/>
<circle cx="638.5" cy="427.5" r="3.15" fill="#e22a22"/>
<circle cx="657.7" cy="439.4" r="3.15" fill="#e22a22"/>
<line x1="504" y1="313" x2="657.4" y2="429.4" stroke="#45aaa8" stroke-width="0.95"/>
<circle cx="504" cy="313" r="2.4" fill="#1a9fd9"/>
<text x="661.22" y="334.5" class="pl">I</text>
<text x="511.48" y="433.4" class="eq">Y</text>
<text x="525.21" y="433.1" class="eqs">=</text>
<text x="537.52" y="433.4" class="eq">e</text>
<text x="544.66" y="428.2" class="sup" textLength="31.4" lengthAdjust="spacing">-0.247X</text>
<text x="511.32" y="449.5" class="eq">R</text>
<text x="525.21" y="449.2" class="eqs">=</text>
<text x="537.56" y="449.5" class="eq">0.91</text>
<text transform="translate(475.5 436.9) rotate(-90)" class="yl" textLength="101.3" lengthAdjust="spacingAndGlyphs">GM<tspan class="sub" dy="2.6">λ</tspan><tspan dy="-2.6">(</tspan>III-3)/GM<tspan class="sub" dy="2.6">λ</tspan><tspan dy="-2.6">(</tspan>II-3)</text>
<path d="M42.5 611.5v4.2 M49.5 611.5v3.1 M55.5 611.5v3.1 M62.5 611.5v3.1 M69.5 611.5v3.1 M76.5 611.5v4.2 M83.5 611.5v3.1 M90.5 611.5v3.1 M97.5 611.5v3.1 M103.5 611.5v3.1 M110.5 611.5v4.2 M117.5 611.5v3.1 M124.5 611.5v3.1 M131.5 611.5v3.1 M138.5 611.5v3.1 M144.5 611.5v4.2 M151.5 611.5v3.1 M158.5 611.5v3.1 M165.5 611.5v3.1 M172.5 611.5v3.1 M179.5 611.5v4.2 M185.5 611.5v3.1 M192.5 611.5v3.1 M199.5 611.5v3.1 M206.5 611.5v3.1 M213.5 611.5v4.2" stroke="#606060" stroke-width="1" fill="none"/>
<path d="M39 467.5h3 M39 499.5h3 M39 549.5h3 M39 611.5h3 M40 575.5h2 M40 549.5h2 M40 529.5h2 M40 512.5h2 M40 499.5h2 M40 487.5h2 M40 476.5h2" stroke="#606060" stroke-width="1" fill="none"/>
<line x1="42" y1="466.5" x2="214" y2="466.5" stroke="#4a4a4a" stroke-width="1"/>
<line x1="42" y1="612" x2="214" y2="612" stroke="#939393" stroke-width="2"/>
<line x1="42.5" y1="466" x2="42.5" y2="613" stroke="#4a4a4a" stroke-width="1"/>
<line x1="213.5" y1="466" x2="213.5" y2="613" stroke="#4a4a4a" stroke-width="1"/>
<text x="30.72" y="471" class="tk">1</text>
<text x="21.09" y="503.02" class="tk">0.8</text>
<text x="20.95" y="553.27" class="tk">0.4</text>
<text x="21.17" y="615.5" class="tk">0.2</text>
<path d="M130.8 522.2V538.2M127.8 522.2h6M127.8 538.2h6 M137.8 523.5V539.5M134.8 523.5h6M134.8 539.5h6 M134.5 528.8V544.8M131.5 528.8h6M131.5 544.8h6 M136.5 530.8V546.8M133.5 530.8h6M133.5 546.8h6 M141.1 528.8V544.8M138.1 528.8h6M138.1 544.8h6 M144.1 533.2V549.2M141.1 533.2h6M141.1 549.2h6 M149.1 528.1V544.1M146.1 528.1h6M146.1 544.1h6 M151.7 538.3V554.3M148.7 538.3h6M148.7 554.3h6 M157.7 540.7V556.7M154.7 540.7h6M154.7 556.7h6 M170.6 530.5V546.5M167.6 530.5h6M167.6 546.5h6 M169.3 547.3V563.3M166.3 547.3h6M166.3 563.3h6 M183.8 555.6V571.6M180.8 555.6h6M180.8 571.6h6 M192.7 557V573M189.7 557h6M189.7 573h6 M177.8 569.8V585.8M174.8 569.8h6M174.8 585.8h6 M183.4 566.7V582.7M180.4 566.7h6M180.4 582.7h6 M186.5 564.5V580.5M183.5 564.5h6M183.5 580.5h6 M196.4 582.1V598.1M193.4 582.1h6M193.4 598.1h6" stroke="#a9a9a9" stroke-width="1" fill="none"/>
<circle cx="130.8" cy="530.2" r="3.15" fill="#e22a22"/>
<circle cx="137.8" cy="531.5" r="3.15" fill="#e22a22"/>
<circle cx="134.5" cy="536.8" r="3.15" fill="#e22a22"/>
<circle cx="136.5" cy="538.8" r="3.15" fill="#e22a22"/>
<circle cx="141.1" cy="536.8" r="3.15" fill="#e22a22"/>
<circle cx="144.1" cy="541.2" r="3.15" fill="#e22a22"/>
<circle cx="149.1" cy="536.1" r="3.15" fill="#e22a22"/>
<circle cx="151.7" cy="546.3" r="3.15" fill="#e22a22"/>
<circle cx="157.7" cy="548.7" r="3.15" fill="#e22a22"/>
<circle cx="170.6" cy="538.5" r="3.15" fill="#e22a22"/>
<circle cx="169.3" cy="555.3" r="3.15" fill="#e22a22"/>
<circle cx="183.8" cy="563.6" r="3.15" fill="#e22a22"/>
<circle cx="192.7" cy="565" r="3.15" fill="#e22a22"/>
<circle cx="177.8" cy="577.8" r="3.15" fill="#e22a22"/>
<circle cx="183.4" cy="574.7" r="3.15" fill="#e22a22"/>
<circle cx="186.5" cy="572.5" r="3.15" fill="#e22a22"/>
<circle cx="196.4" cy="590.1" r="3.15" fill="#e22a22"/>
<line x1="42" y1="467" x2="196.4" y2="577.4" stroke="#45aaa8" stroke-width="0.95"/>
<circle cx="42" cy="467" r="2.4" fill="#1a9fd9"/>
<text x="195.96" y="488.3" class="pl">J</text>
<text x="49.48" y="587" class="eq">Y</text>
<text x="63.21" y="586.7" class="eqs">=</text>
<text x="75.52" y="587" class="eq">e</text>
<text x="82.66" y="581.8" class="sup" textLength="31.4" lengthAdjust="spacing">-0.014X</text>
<text x="49.32" y="602.8" class="eq">R</text>
<text x="63.21" y="602.5" class="eqs">=</text>
<text x="75.56" y="602.8" class="eq">0.90</text>
<text transform="translate(8.6 581.9) rotate(-90)" class="yl" textLength="82.6" lengthAdjust="spacingAndGlyphs">GM<tspan class="sub" dy="2.6">λ</tspan><tspan dy="-2.6">(</tspan>II-3)/GM<tspan class="sub" dy="2.6">λ</tspan><tspan dy="-2.6">(</tspan>I)</text>
<path d="M273.5 611.5v4.2 M280.5 611.5v3.1 M286.5 611.5v3.1 M293.5 611.5v3.1 M300.5 611.5v3.1 M307.5 611.5v4.2 M314.5 611.5v3.1 M321.5 611.5v3.1 M328.5 611.5v3.1 M334.5 611.5v3.1 M341.5 611.5v4.2 M348.5 611.5v3.1 M355.5 611.5v3.1 M362.5 611.5v3.1 M369.5 611.5v3.1 M375.5 611.5v4.2 M382.5 611.5v3.1 M389.5 611.5v3.1 M396.5 611.5v3.1 M403.5 611.5v3.1 M410.5 611.5v4.2 M416.5 611.5v3.1 M423.5 611.5v3.1 M430.5 611.5v3.1 M437.5 611.5v3.1 M444.5 611.5v4.2" stroke="#606060" stroke-width="1" fill="none"/>
<path d="M270 467.5h3 M270 499.5h3 M270 549.5h3 M270 611.5h3 M271 575.5h2 M271 549.5h2 M271 529.5h2 M271 512.5h2 M271 499.5h2 M271 487.5h2 M271 476.5h2" stroke="#606060" stroke-width="1" fill="none"/>
<line x1="273" y1="466.5" x2="445" y2="466.5" stroke="#4a4a4a" stroke-width="1"/>
<line x1="273" y1="611.5" x2="445" y2="611.5" stroke="#4a4a4a" stroke-width="1"/>
<line x1="273.5" y1="466" x2="273.5" y2="612" stroke="#4a4a4a" stroke-width="1"/>
<line x1="444.5" y1="466" x2="444.5" y2="612" stroke="#4a4a4a" stroke-width="1"/>
<text x="261.72" y="471" class="tk">1</text>
<text x="252.09" y="503.02" class="tk">0.8</text>
<text x="251.95" y="553.27" class="tk">0.4</text>
<text x="252.17" y="615.5" class="tk">0.2</text>
<path d="M361.2 518.7V533.7M358.2 518.7h6M358.2 533.7h6 M367.8 520.3V535.3M364.8 520.3h6M364.8 535.3h6 M365.2 526V541M362.2 526h6M362.2 541h6 M367.2 527.3V542.3M364.2 527.3h6M364.2 542.3h6 M371.1 525.3V540.3M368.1 525.3h6M368.1 540.3h6 M374.4 530V545M371.4 530h6M371.4 545h6 M379.3 525.3V540.3M376.3 525.3h6M376.3 540.3h6 M382.4 534.6V549.6M379.4 534.6h6M379.4 549.6h6 M389 536.3V551.3M386 536.3h6M386 551.3h6 M400.6 526.9V541.9M397.6 526.9h6M397.6 541.9h6 M399.2 542.5V557.5M396.2 542.5h6M396.2 557.5h6 M414.8 550.7V565.7M411.8 550.7h6M411.8 565.7h6 M422.4 552V567M419.4 552h6M419.4 567h6 M407.8 564.3V579.3M404.8 564.3h6M404.8 579.3h6 M414.1 561V576M411.1 561h6M411.1 576h6 M417.1 559.7V574.7M414.1 559.7h6M414.1 574.7h6 M426.9 576.2V591.2M423.9 576.2h6M423.9 591.2h6" stroke="#a9a9a9" stroke-width="1" fill="none"/>
<circle cx="361.2" cy="526.2" r="3.15" fill="#e22a22"/>
<circle cx="367.8" cy="527.8" r="3.15" fill="#e22a22"/>
<circle cx="365.2" cy="533.5" r="3.15" fill="#e22a22"/>
<circle cx="367.2" cy="534.8" r="3.15" fill="#e22a22"/>
<circle cx="371.1" cy="532.8" r="3.15" fill="#e22a22"/>
<circle cx="374.4" cy="537.5" r="3.15" fill="#e22a22"/>
<circle cx="379.3" cy="532.8" r="3.15" fill="#e22a22"/>
<circle cx="382.4" cy="542.1" r="3.15" fill="#e22a22"/>
<circle cx="389" cy="543.8" r="3.15" fill="#e22a22"/>
<circle cx="400.6" cy="534.4" r="3.15" fill="#e22a22"/>
<circle cx="399.2" cy="550" r="3.15" fill="#e22a22"/>
<circle cx="414.8" cy="558.2" r="3.15" fill="#e22a22"/>
<circle cx="422.4" cy="559.5" r="3.15" fill="#e22a22"/>
<circle cx="407.8" cy="571.8" r="3.15" fill="#e22a22"/>
<circle cx="414.1" cy="568.5" r="3.15" fill="#e22a22"/>
<circle cx="417.1" cy="567.2" r="3.15" fill="#e22a22"/>
<circle cx="426.9" cy="583.7" r="3.15" fill="#e22a22"/>
<line x1="273" y1="467" x2="426.6" y2="572.1" stroke="#45aaa8" stroke-width="0.95"/>
<circle cx="273" cy="467" r="2.4" fill="#1a9fd9"/>
<text x="425.94" y="487.9" class="pl">K</text>
<text x="280.48" y="587" class="eq">Y</text>
<text x="294.21" y="586.7" class="eqs">=</text>
<text x="306.52" y="587" class="eq">e</text>
<text x="313.66" y="581.8" class="sup" textLength="31.4" lengthAdjust="spacing">-0.013X</text>
<text x="280.32" y="602.8" class="eq">R</text>
<text x="294.21" y="602.5" class="eqs">=</text>
<text x="306.56" y="602.8" class="eq">0.90</text>
<text transform="translate(243.5 586.2) rotate(-90)" class="yl" textLength="97.3" lengthAdjust="spacingAndGlyphs">GM<tspan class="sub" dy="2.6">λ</tspan><tspan dy="-2.6">(</tspan>II-3)/GM<tspan class="sub" dy="2.6">λ</tspan><tspan dy="-2.6">(</tspan>II-2)</text>
<path d="M504.5 611.5v4.2 M511.5 611.5v3.1 M517.5 611.5v3.1 M524.5 611.5v3.1 M531.5 611.5v3.1 M538.5 611.5v4.2 M545.5 611.5v3.1 M552.5 611.5v3.1 M559.5 611.5v3.1 M565.5 611.5v3.1 M572.5 611.5v4.2 M579.5 611.5v3.1 M586.5 611.5v3.1 M593.5 611.5v3.1 M600.5 611.5v3.1 M606.5 611.5v4.2 M613.5 611.5v3.1 M620.5 611.5v3.1 M627.5 611.5v3.1 M634.5 611.5v3.1 M641.5 611.5v4.2 M647.5 611.5v3.1 M654.5 611.5v3.1 M661.5 611.5v3.1 M668.5 611.5v3.1 M675.5 611.5v4.2" stroke="#606060" stroke-width="1" fill="none"/>
<path d="M500 467.5h3 M500 503.5h3 M500 539.5h3 M500 575.5h3 M500 611.5h3" stroke="#606060" stroke-width="1" fill="none"/>
<line x1="503" y1="466.5" x2="676" y2="466.5" stroke="#4a4a4a" stroke-width="1"/>
<line x1="503" y1="611.5" x2="676" y2="611.5" stroke="#4a4a4a" stroke-width="1"/>
<line x1="503.5" y1="466" x2="503.5" y2="612" stroke="#4a4a4a" stroke-width="1"/>
<line x1="675.5" y1="466" x2="675.5" y2="612" stroke="#4a4a4a" stroke-width="1"/>
<text x="491.72" y="471" class="tk">1</text>
<text x="476.55 482.85 489.15 495.45" y="506.62" class="tks">0.98</text>
<text x="476.55 482.85 489.15 495.45" y="542.75" class="tks">0.96</text>
<text x="476.55 482.85 489.15 495.45" y="578.88" class="tks">0.94</text>
<text x="476.55 482.85 489.15 495.45" y="615" class="tks">0.92</text>
<path d="M591.7 528.5V546.5M588.7 528.5h6M588.7 546.5h6 M598.3 530.3V548.3M595.3 530.3h6M595.3 548.3h6 M595.5 534.1V552.1M592.5 534.1h6M592.5 552.1h6 M596.9 539V557M593.9 539h6M593.9 557h6 M599.7 536.9V554.9M596.7 536.9h6M596.7 554.9h6 M602.5 536.2V554.2M599.5 536.2h6M599.5 554.2h6 M605.3 540.4V558.4M602.3 540.4h6M602.3 558.4h6 M609.5 541.5V559.5M606.5 541.5h6M606.5 559.5h6 M613.7 544.2V562.2M610.7 544.2h6M610.7 562.2h6 M618.9 555.5V573.5M615.9 555.5h6M615.9 573.5h6 M631.5 536.2V554.2M628.5 536.2h6M628.5 554.2h6 M630.1 555.5V573.5M627.1 555.5h6M627.1 573.5h6 M645.2 569.8V587.8M642.2 569.8h6M642.2 587.8h6 M653.6 568.1V586.1M650.6 568.1h6M650.6 586.1h6 M643.8 576.1V594.1M640.8 576.1h6M640.8 594.1h6 M647.3 578.9V596.9M644.3 578.9h6M644.3 596.9h6 M638.6 582.4V600.4M635.6 582.4h6M635.6 600.4h6 M657.8 590.4V608.4M654.8 590.4h6M654.8 608.4h6" stroke="#a9a9a9" stroke-width="1" fill="none"/>
<circle cx="591.7" cy="537.5" r="3.15" fill="#e22a22"/>
<circle cx="598.3" cy="539.3" r="3.15" fill="#e22a22"/>
<circle cx="595.5" cy="543.1" r="3.15" fill="#e22a22"/>
<circle cx="596.9" cy="548" r="3.15" fill="#e22a22"/>
<circle cx="599.7" cy="545.9" r="3.15" fill="#e22a22"/>
<circle cx="602.5" cy="545.2" r="3.15" fill="#e22a22"/>
<circle cx="605.3" cy="549.4" r="3.15" fill="#e22a22"/>
<circle cx="609.5" cy="550.5" r="3.15" fill="#e22a22"/>
<circle cx="613.7" cy="553.2" r="3.15" fill="#e22a22"/>
<circle cx="618.9" cy="564.5" r="3.15" fill="#e22a22"/>
<circle cx="631.5" cy="545.2" r="3.15" fill="#e22a22"/>
<circle cx="630.1" cy="564.5" r="3.15" fill="#e22a22"/>
<circle cx="645.2" cy="578.8" r="3.15" fill="#e22a22"/>
<circle cx="653.6" cy="577.1" r="3.15" fill="#e22a22"/>
<circle cx="643.8" cy="585.1" r="3.15" fill="#e22a22"/>
<circle cx="647.3" cy="587.9" r="3.15" fill="#e22a22"/>
<circle cx="638.6" cy="591.4" r="3.15" fill="#e22a22"/>
<circle cx="657.8" cy="599.4" r="3.15" fill="#e22a22"/>
<line x1="504" y1="467" x2="657.8" y2="590" stroke="#45aaa8" stroke-width="0.95"/>
<circle cx="504" cy="467" r="2.4" fill="#1a9fd9"/>
<text x="660.94" y="488.4" class="pl">L</text>
<text x="511.48" y="587" class="eq">Y</text>
<text x="525.21" y="586.7" class="eqs">=</text>
<text x="537.52" y="587" class="eq">e</text>
<text x="544.66" y="581.8" class="sup" textLength="31.4" lengthAdjust="spacing">-0.001X</text>
<text x="511.32" y="602.8" class="eq">R</text>
<text x="525.21" y="602.5" class="eqs">=</text>
<text x="537.56" y="602.8" class="eq">0.91</text>
<text transform="translate(474.6 585.8) rotate(-90)" class="yl" textLength="96.5" lengthAdjust="spacingAndGlyphs">GM<tspan class="sub" dy="2.6">λ</tspan><tspan dy="-2.6">(</tspan>II-2)/GM<tspan class="sub" dy="2.6">λ</tspan><tspan dy="-2.6">(</tspan>II-1)</text>
<text x="43" y="624.7" text-anchor="middle" class="xt">0</text>
<text x="77.2" y="624.7" text-anchor="middle" class="xt">20</text>
<text x="111.4" y="624.7" text-anchor="middle" class="xt">40</text>
<text x="145.6" y="624.7" text-anchor="middle" class="xt">60</text>
<text x="179.8" y="624.7" text-anchor="middle" class="xt">80</text>
<text x="214" y="624.7" text-anchor="middle" class="xt">100</text>
<text x="68.3" y="641.5" class="xl">Relative</text>
<text x="116.5" y="641.5" class="xl">distance</text>
<text x="161.6" y="641.5" class="xlp">(</text>
<text x="166.6" y="641.5" class="xl">km</text>
<text x="182.9" y="641.5" class="xlp">)</text>
<text x="274" y="624.7" text-anchor="middle" class="xt">0</text>
<text x="308.2" y="624.7" text-anchor="middle" class="xt">20</text>
<text x="342.4" y="624.7" text-anchor="middle" class="xt">40</text>
<text x="376.6" y="624.7" text-anchor="middle" class="xt">60</text>
<text x="410.8" y="624.7" text-anchor="middle" class="xt">80</text>
<text x="445" y="624.7" text-anchor="middle" class="xt">100</text>
<text x="300.1" y="640.9" class="xl">Relative</text>
<text x="348.3" y="640.9" class="xl">distance</text>
<text x="393.4" y="640.9" class="xlp">(</text>
<text x="398.4" y="640.9" class="xl">km</text>
<text x="414.7" y="640.9" class="xlp">)</text>
<text x="505" y="624.7" text-anchor="middle" class="xt">0</text>
<text x="539.2" y="624.7" text-anchor="middle" class="xt">20</text>
<text x="573.4" y="624.7" text-anchor="middle" class="xt">40</text>
<text x="607.6" y="624.7" text-anchor="middle" class="xt">60</text>
<text x="641.8" y="624.7" text-anchor="middle" class="xt">80</text>
<text x="676" y="624.7" text-anchor="middle" class="xt">100</text>
<text x="528.2" y="641.5" class="xl">Relative</text>
<text x="576.4" y="641.5" class="xl">distance</text>
<text x="621.5" y="641.5" class="xlp">(</text>
<text x="626.5" y="641.5" class="xl">km</text>
<text x="642.8" y="641.5" class="xlp">)</text>
</svg>
</body></html>
